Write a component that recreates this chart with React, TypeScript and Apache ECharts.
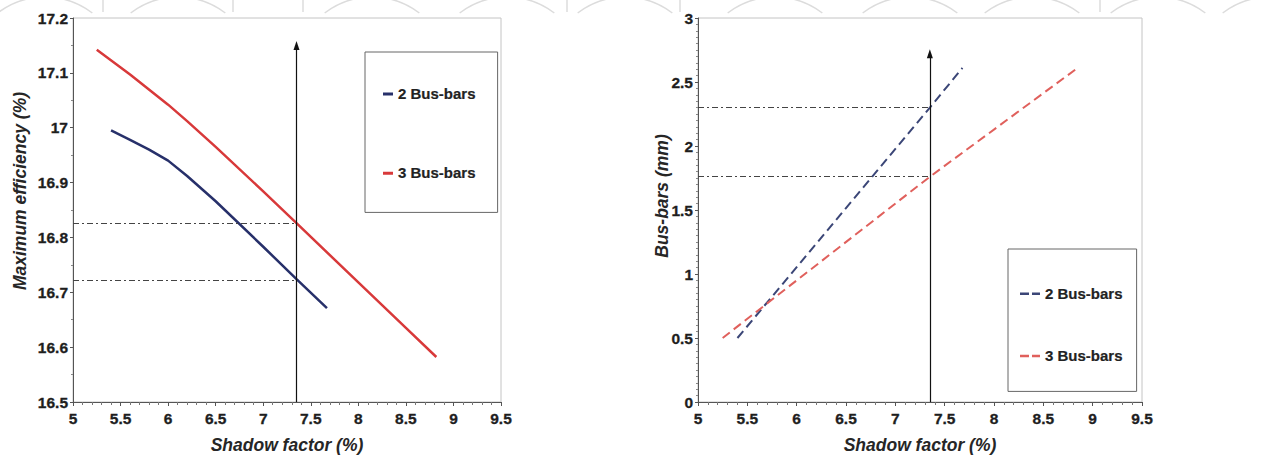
import React, { useEffect, useRef } from "react";
import * as echarts from "echarts";

// ---- data ----
const xTicks = { min: 5, max: 9.5, interval: 0.5 };
const effYRange = { min: 16.5, max: 17.2, interval: 0.1 };
const busYRange = { min: 0, max: 3, interval: 0.5 };

const eff2X = [5.4, 5.6, 5.8, 6.0, 6.2, 6.5, 7.0, 7.35, 7.67];
const eff2Y = [16.995, 16.978, 16.96, 16.94, 16.912, 16.866, 16.783, 16.724, 16.671];
const eff3X = [5.25, 5.6, 6.0, 6.2, 6.5, 7.0, 7.35, 8.0, 8.5, 8.82];
const eff3Y = [17.142, 17.097, 17.042, 17.012, 16.965, 16.884, 16.826, 16.718, 16.635, 16.582];

const bus2X = [5.4, 7.35, 7.68];
const bus2Y = [0.5, 2.3, 2.61];
const bus3X = [5.25, 7.35, 8.83];
const bus3Y = [0.5, 1.76, 2.6];

const markX = 7.35;
const effMarks = [16.825, 16.722];
const effArrowTop = 17.15;
const busMarks = [2.3, 1.76];
const busArrowTop = 2.72;

const legendNames: Record<string, string> = {
  L2: "2 Bus-bars",
  L3: "3 Bus-bars",
  R2: "2 Bus-bars",
  R3: "3 Bus-bars",
};

const zip = (xs: number[], ys: number[]) => xs.map((x, i) => [x, ys[i]]);

const FONT = "Liberation Sans, Arial, sans-serif";

export default function App() {
  const ref = useRef<HTMLDivElement>(null);
  useEffect(() => {
    document.body.style.margin = "0";
    const chart = echarts.init(ref.current!, null, { renderer: "svg" });

    const labelStyle = {
      fontFamily: FONT,
      fontSize: 15.5,
      fontWeight: "bold",
      color: "#1e1e1e",
      textBorderColor: "#1e1e1e",
      textBorderWidth: 0.3,
    };
    const titleStyle = {
      fontFamily: FONT,
      fontSize: 17.5,
      fontWeight: "bold",
      fontStyle: "italic",
      color: "#262626",
    };

    const xAxisBase = (gridIndex: number) => ({
      type: "value",
      gridIndex,
      min: xTicks.min,
      max: xTicks.max,
      interval: xTicks.interval,
      name: "Shadow factor (%)",
      nameLocation: "middle",
      nameGap: 34,
      nameTextStyle: titleStyle,
      axisLine: { show: true, lineStyle: { color: "#555", width: 1 } },
      axisTick: { show: true, length: 4, inside: false, lineStyle: { color: "#555" } },
      minorTick: { show: true, splitNumber: 5, length: 3, lineStyle: { color: "#777" } },
      splitLine: { show: false },
      axisLabel: { ...labelStyle, margin: 8 },
    });

    const yAxisBase = (gridIndex: number, r: any, minorSplit: number) => ({
      type: "value",
      gridIndex,
      min: r.min,
      max: r.max,
      interval: r.interval,
      axisLine: { show: true, lineStyle: { color: "#555", width: 1 } },
      axisTick: { show: true, length: 3, lineStyle: { color: "#555" } },
      minorTick: { show: true, splitNumber: minorSplit, length: 2, lineStyle: { color: "#888" } },
      splitLine: { show: false },
      axisLabel: { ...labelStyle, margin: 5 },
    });

    const dashDot = { color: "#444", width: 1, type: [6, 3, 2, 3] as any };
    const hLines = (vals: number[], xMin: number) =>
      vals.map((v) => [
        { coord: [xMin, v], lineStyle: dashDot, symbol: "none" },
        { coord: [markX, v], symbol: "none" },
      ]);
    const arrow = (bottom: number, top: number) => [
      { coord: [markX, bottom], lineStyle: { color: "#111", width: 1.2, type: "solid" }, symbol: "none" },
      { coord: [markX, top], symbol: "triangle", symbolSize: [6, 9] },
    ];

    // faint watermark arcs along the top edge
    const decor: any[] = [];
    const arcCenters = [45, 178, 372, 507, 625, 775, 910, 1032, 1158, 1270];
    const R = 78;
    const CY = 75;
    const a = Math.asin((CY - 13) / R);
    arcCenters.forEach((cx) => {
      decor.push({
        type: "arc",
        silent: true,
        z: -10,
        shape: { cx, cy: CY, r: R, startAngle: -Math.PI + a, endAngle: -a, clockwise: true },
        style: { fill: "none", stroke: "#dcdcdc", lineWidth: 1.5 },
      });
    });
    [103, 233, 303, 567, 680, 1100].forEach((x) => {
      decor.push({
        type: "line",
        silent: true,
        z: -10,
        shape: { x1: x, y1: 0, x2: x, y2: 12 },
        style: { stroke: "#dcdcdc", lineWidth: 1.5 },
      });
    });

    // rotated y-axis titles
    decor.push({
      type: "text",
      x: 20,
      y: 191,
      rotation: Math.PI / 2,
      style: { text: "Maximum efficiency (%)", align: "center", verticalAlign: "middle", font: `italic bold 17.5px ${FONT}`, fill: "#262626" },
    });
    decor.push({
      type: "text",
      x: 662,
      y: 196,
      rotation: Math.PI / 2,
      style: { text: "Bus-bars (mm)", align: "center", verticalAlign: "middle", font: `italic bold 17.5px ${FONT}`, fill: "#262626" },
    });

    const legendCommon = {
      orient: "vertical",
      borderColor: "#666",
      borderWidth: 1,
      backgroundColor: "#fff",
      itemHeight: 14,
      textStyle: { fontFamily: FONT, fontSize: 15, fontWeight: "bold", color: "#222", textBorderColor: "#222", textBorderWidth: 0.2 },
      formatter: (n: string) => legendNames[n] ?? n,
      selectedMode: false,
    };

    const solidIcon = "path://M0,6H10V9H0Z M0,0H0.01V0.01H0Z M0,14H0.01V14.01H0Z";
    const dashIcon = "path://M0,6H9V8.5H0Z M12,6H20V8.5H12Z M0,0H0.01V0.01H0Z M0,14H0.01V14.01H0Z";

    chart.setOption({
      animation: false,
      backgroundColor: "#fff",
      graphic: decor,
      grid: [
        { left: 73, top: 18, width: 428, height: 384, show: true, borderColor: "#c4c4c4", borderWidth: 1, backgroundColor: "#fff" },
        { left: 698, top: 18, width: 444, height: 384, show: true, borderColor: "#c4c4c4", borderWidth: 1, backgroundColor: "#fff" },
      ],
      legend: [
        {
          ...legendCommon,
          data: [
            { name: "L2", icon: solidIcon, itemStyle: { color: "#27306a" } },
            { name: "L3", icon: solidIcon, itemStyle: { color: "#d8393a" } },
          ],
          left: 365,
          top: 52,
          padding: [34, 22, 32, 18],
          itemGap: 64,
          itemWidth: 10,
        },
        {
          ...legendCommon,
          data: [
            { name: "R2", icon: dashIcon, itemStyle: { color: "#3b4677" } },
            { name: "R3", icon: dashIcon, itemStyle: { color: "#e0605c" } },
          ],
          left: 1008,
          top: 249,
          padding: [37, 14, 28, 12],
          itemGap: 47,
          itemWidth: 20,
        },
      ],
      xAxis: [xAxisBase(0), xAxisBase(1)],
      yAxis: [yAxisBase(0, effYRange, 2), yAxisBase(1, busYRange, 10)],
      series: [
        {
          name: "L2",
          type: "line",
          xAxisIndex: 0,
          yAxisIndex: 0,
          data: zip(eff2X, eff2Y),
          showSymbol: false,
          symbol: "none",
          lineStyle: { color: "#27306a", width: 2.5 },
          itemStyle: { color: "#27306a" },
          z: 3,
        },
        {
          name: "L3",
          type: "line",
          xAxisIndex: 0,
          yAxisIndex: 0,
          data: zip(eff3X, eff3Y),
          showSymbol: false,
          symbol: "none",
          lineStyle: { color: "#d8393a", width: 2.5 },
          itemStyle: { color: "#d8393a" },
          z: 3,
        },
        {
          name: "marksL",
          type: "line",
          xAxisIndex: 0,
          yAxisIndex: 0,
          data: [],
          z: 4,
          markLine: {
            silent: true,
            animation: false,
            label: { show: false },
            data: [...hLines(effMarks, xTicks.min), arrow(effYRange.min, effArrowTop)],
          },
        },
        {
          name: "R2",
          type: "line",
          xAxisIndex: 1,
          yAxisIndex: 1,
          data: zip(bus2X, bus2Y),
          showSymbol: false,
          symbol: "none",
          lineStyle: { color: "#3b4677", width: 2, type: [9, 5] },
          itemStyle: { color: "#3b4677" },
          z: 3,
        },
        {
          name: "R3",
          type: "line",
          xAxisIndex: 1,
          yAxisIndex: 1,
          data: zip(bus3X, bus3Y),
          showSymbol: false,
          symbol: "none",
          lineStyle: { color: "#e0605c", width: 2, type: [9, 5] },
          itemStyle: { color: "#e0605c" },
          z: 3,
        },
        {
          name: "marksR",
          type: "line",
          xAxisIndex: 1,
          yAxisIndex: 1,
          data: [],
          z: 4,
          markLine: {
            silent: true,
            animation: false,
            label: { show: false },
            data: [...hLines(busMarks, xTicks.min), arrow(busYRange.min, busArrowTop)],
          },
        },
      ],
    });
    return () => chart.dispose();
  }, []);
  return <div ref={ref} style={{ position: "absolute", left: 0, top: 0, width: 1275, height: 459 }} />;
}
